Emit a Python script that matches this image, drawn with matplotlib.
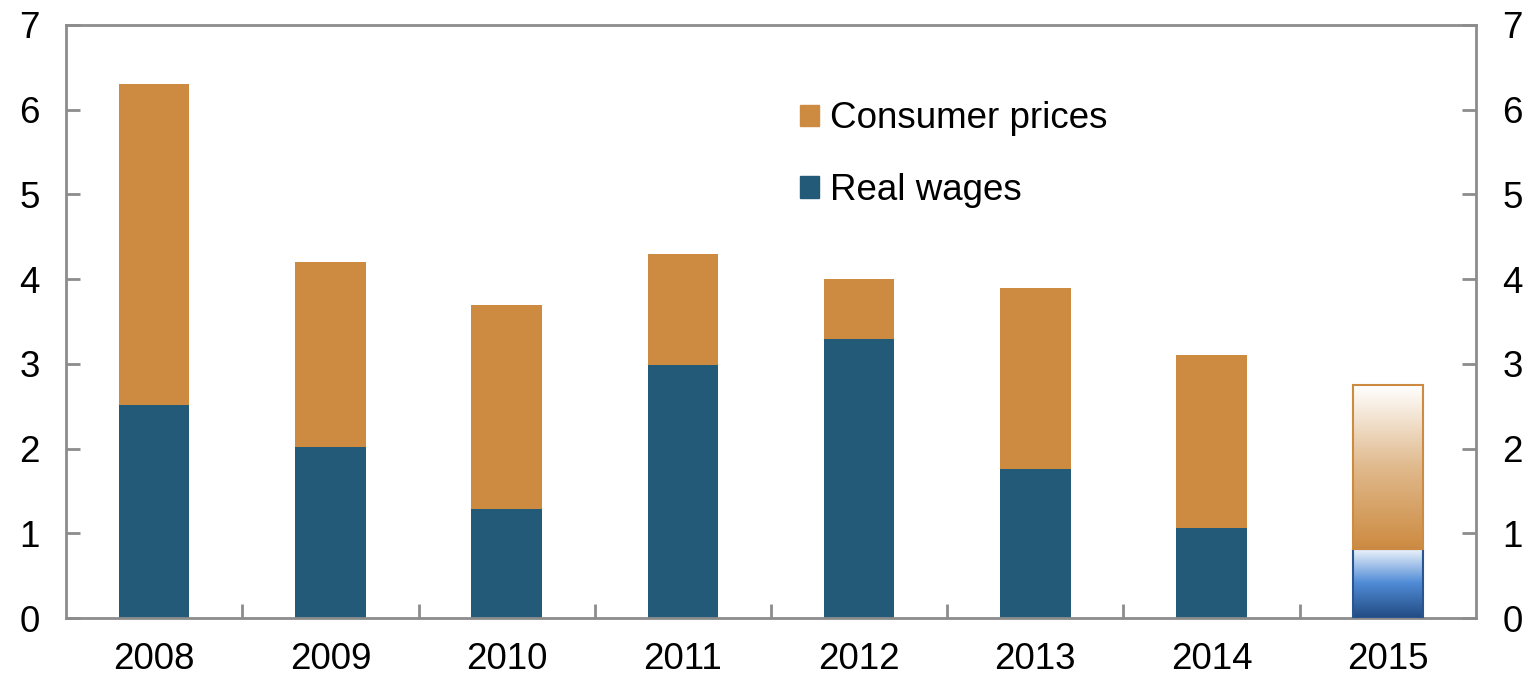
import numpy as np
import matplotlib
matplotlib.use("Agg")
import matplotlib.pyplot as plt
from matplotlib.colors import LinearSegmentedColormap
from matplotlib.patches import Patch

plt.rcParams['font.family'] = ['Liberation Sans', 'DejaVu Sans']

years = ['2008', '2009', '2010', '2011', '2012', '2013', '2014', '2015']
real_wages = [2.52, 2.02, 1.29, 2.99, 3.29, 1.76, 1.06, 0.82]
consumer_prices = [3.78, 2.18, 2.41, 1.31, 0.71, 2.14, 2.04, 1.93]
projected = [False, False, False, False, False, False, False, True]

orange = '#CD8B41'
blue = '#235A78'
grey = '#8C8C8C'

fig = plt.figure(figsize=(15.32, 6.79), dpi=100)
ax = fig.add_axes([0.0431, 0.0898, 0.9203, 0.8734])

x = np.arange(len(years))
w = 0.40

orange_grad = LinearSegmentedColormap.from_list('og', ['#CD8B41', '#E0B98C', '#FFFFFF'])
blue_grad = LinearSegmentedColormap.from_list('bg', ['#224B82', '#4F8BD6', '#F2F6FC'])

def gradient_bar(xc, bottom, height, cmap, edge):
    bar = ax.bar(xc, height, w, bottom=bottom, color='none', edgecolor=edge, linewidth=1.5, zorder=3)[0]
    grad = np.linspace(0, 1, 256).reshape(-1, 1)
    im = ax.imshow(grad, cmap=cmap, origin='lower', aspect='auto',
                   extent=[xc - w / 2, xc + w / 2, bottom, bottom + height], zorder=2)
    im.set_clip_path(bar)

for i in range(len(years)):
    if projected[i]:
        gradient_bar(x[i], 0, real_wages[i], blue_grad, '#2A5590')
        gradient_bar(x[i], real_wages[i], consumer_prices[i], orange_grad, orange)
    else:
        ax.bar(x[i], real_wages[i], w, color=blue, zorder=2)
        ax.bar(x[i], consumer_prices[i], w, bottom=real_wages[i], color=orange, zorder=2)

ax.set_xlim(-0.5, len(years) - 0.5)
ax.set_ylim(0, 7)
ax.set_yticks(range(0, 8))
ax.set_xticks(x)
ax.set_xticklabels(years)
ax.set_xticks(np.arange(0.5, len(years) - 1, 1), minor=True)

for s in ax.spines.values():
    s.set_color(grey)
    s.set_linewidth(2)

ax.tick_params(axis='y', direction='in', length=10, width=2, color=grey,
               labelsize=26.5, right=True, labelright=True, pad=19)
ax.tick_params(axis='x', which='major', length=0, labelsize=26.5, pad=17)
ax.tick_params(axis='x', which='minor', direction='in', length=10, width=2, color=grey)

handles = [Patch(color=orange), Patch(color=blue)]
ax.legend(handles, ['Consumer prices', 'Real wages'], loc='upper left',
          bbox_to_anchor=(0.497, 0.927), frameon=False, fontsize=26.5,
          handlelength=0.52, handleheight=0.52, handletextpad=0.3, labelspacing=0.99)

fig.savefig('out.png', dpi=100)
